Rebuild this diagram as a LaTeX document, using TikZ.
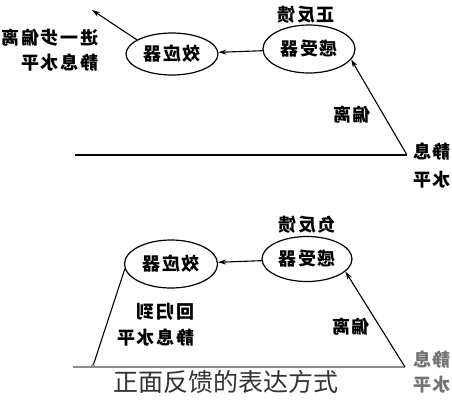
\documentclass[tikz,border=0pt]{standalone}
\usepackage{fontspec}
\newfontfamily\cjk[LetterSpace=10]{Noto Sans CJK SC}
\newfontfamily\cjkcap{Noto Sans CJK SC}
\usetikzlibrary{shapes.geometric,arrows.meta}
\newcommand{\flipped}[1]{\reflectbox{#1}}

\begin{document}
\begin{tikzpicture}[x=1pt,y=-1pt,font=\cjk\bfseries\fontsize{18}{20}\selectfont,
  organ/.style={draw,ellipse,line width=1.2pt,minimum width=92pt,minimum height=46pt,inner sep=0pt},
  conn/.style={line width=1.1pt},
  tip/.style={conn,-{Stealth[length=8pt,width=5pt]}},
  pale/.style={draw=black!45,line width=1.8pt}]
\useasboundingbox (0,0) rectangle (452,400);

% positive feedback
\node[organ,minimum height=42pt] (eff1) at (172,54) {\flipped{效应器}};
\node[organ,minimum height=48pt] (rec1) at (309,49) {\flipped{感受器}};
\node (lab1) at (306,15) {\flipped{正反馈}};
\node[anchor=east] (far1a) at (102,38) {\flipped{进一步偏离}};
\node[anchor=east] (far1b) at (102,63) {\flipped{静息水平}};
\node (dev1) at (352,115) {\flipped{偏离}};
\node (rest1a) at (432,152) {\flipped{静息}};
\node (rest1b) at (432,180) {\flipped{水平}};
\coordinate (l1) at (75,155);
\coordinate (r1) at (407,155);
\coordinate (out1) at (92,10);

\draw[tip] (rec1) -- (eff1);
\draw[tip] (eff1.158) -- (out1);
\draw[conn] (l1) -- (r1);
\draw[tip] (r1) -- (rec1.-14);

% negative feedback
\node[organ,minimum width=93pt,minimum height=48pt] (eff2) at (171,264) {\flipped{效应器}};
\node[organ,minimum width=90pt,minimum height=45pt] (rec2) at (307,259) {\flipped{感受器}};
\node (lab2) at (307,225) {\flipped{负反馈}};
\node[anchor=east] (back2a) at (198,312) {\flipped{回归到}};
\node[anchor=east] (back2b) at (198,338) {\flipped{静息水平}};
\node (dev2) at (351,327) {\flipped{偏离}};
\node[text=black!55] (rest2a) at (432,360) {\flipped{静息}};
\node[text=black!55] (rest2b) at (432,385) {\flipped{水平}};
\coordinate (l2) at (73,367);
\coordinate (r2) at (405,367);
\coordinate (foot) at (93,366);

\draw[tip] (rec2) -- (eff2);
\draw[conn] (eff2.186) -- (foot);
\fill[black!45] (foot) circle (2pt);
\draw[pale] (l2) -- (r2);
\draw[tip] (r2) -- (rec2.-18);

\node[font=\cjkcap\fontsize{25}{27}\selectfont,text=black!80] (cap) at (226,382) {正面反馈的表达方式};

\end{tikzpicture}
\end{document}
